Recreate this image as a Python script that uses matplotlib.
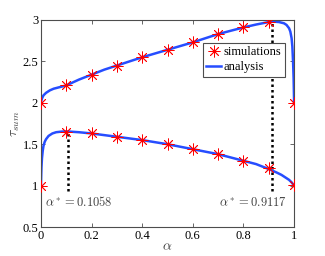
import matplotlib
matplotlib.use("Agg")
import matplotlib.pyplot as plt
import numpy as np

plt.rcParams['font.family'] = ['Liberation Serif', 'DejaVu Serif']
plt.rcParams['mathtext.fontset'] = 'cm'

# simulation points
alpha_sim = [0.0, 0.1, 0.2, 0.3, 0.4, 0.5, 0.6, 0.7, 0.8, 0.9, 1.0]
upper_sim = [2.0, 2.21, 2.34, 2.45, 2.55, 2.64, 2.73, 2.83, 2.91, 2.97, 2.0]
lower_sim = [1.0, 1.65, 1.63, 1.59, 1.55, 1.50, 1.44, 1.38, 1.30, 1.21, 1.01]

# analysis curves (sampled)
alpha_up = [0.0, 0.002, 0.005, 0.01, 0.02, 0.035, 0.05, 0.075, 0.1, 0.15, 0.2, 0.25,
            0.3, 0.35, 0.4, 0.45, 0.5, 0.55, 0.6, 0.65, 0.7, 0.75, 0.8, 0.85,
            0.9, 0.92, 0.94, 0.96, 0.97, 0.98, 0.985, 0.99, 0.993, 0.996, 0.998, 1.0]
upper_an = [2.0, 2.03, 2.06, 2.09, 2.12, 2.15, 2.17, 2.19, 2.21, 2.28, 2.34, 2.40,
            2.45, 2.50, 2.55, 2.595, 2.64, 2.685, 2.73, 2.78, 2.83, 2.87, 2.91, 2.945,
            2.975, 2.98, 2.975, 2.96, 2.94, 2.9, 2.86, 2.78, 2.68, 2.48, 2.3, 2.0]
alpha_lo = [0.0, 0.001, 0.002, 0.004, 0.007, 0.01, 0.015, 0.02, 0.03, 0.045, 0.06,
            0.08, 0.1, 0.15, 0.2, 0.25, 0.3, 0.35, 0.4, 0.45, 0.5, 0.55, 0.6, 0.65,
            0.7, 0.75, 0.8, 0.85, 0.9, 0.93, 0.95, 0.97, 0.98, 0.99, 1.0]
lower_an = [1.0, 1.12, 1.22, 1.33, 1.42, 1.48, 1.53, 1.56, 1.60, 1.63, 1.645,
            1.652, 1.655, 1.645, 1.63, 1.61, 1.59, 1.57, 1.55, 1.525, 1.50, 1.47, 1.44, 1.41,
            1.38, 1.34, 1.30, 1.26, 1.20, 1.16, 1.13, 1.09, 1.07, 1.04, 1.0]

alpha_star = [0.1058, 0.9117]
star_top = [1.655, 2.98]
star_bottom = 0.93

blue = (0.15, 0.3, 1.0)
star = (8, 2, 0)
mk = dict(ls='none', marker=star, ms=8.5, mew=0.6, color='red')

fig = plt.figure(figsize=(3.25, 2.56), dpi=100)
ax = fig.add_axes([0.126, 0.113, 0.779, 0.809])

for xs, top in zip(alpha_star, star_top):
    ax.plot([xs, xs], [star_bottom, top], color='black', ls=(0, (1, 1.2)), lw=1.8, zorder=1)

ax.plot(alpha_up, upper_an, color=blue, lw=1.8, zorder=2)
ax.plot(alpha_lo, lower_an, color=blue, lw=1.8, zorder=2)
ax.plot(alpha_sim, upper_sim, zorder=3, **mk)
ax.plot(alpha_sim, lower_sim, zorder=3, **mk)

# legend proxies
h1, = ax.plot([], [], label='simulations', **mk)
h2, = ax.plot([], [], color=blue, lw=1.8, label='analysis')
leg = ax.legend(handles=[h1, h2], loc='upper right', bbox_to_anchor=(0.965, 0.89),
                fontsize=9, handlelength=1.2, handletextpad=0.2, borderpad=0.3,
                labelspacing=0.2, fancybox=False, framealpha=1, borderaxespad=0)
leg.get_frame().set_edgecolor('0.3')
leg.get_frame().set_linewidth(0.8)

ax.text(0.015, 0.80, r'$\alpha^* = 0.1058$', fontsize=9, color='0.25', va='center', ha='left')
ax.text(0.97, 0.80, r'$\alpha^* = 0.9117$', fontsize=9, color='0.25', va='center', ha='right')

ax.set_xlim(0, 1)
ax.set_ylim(0.5, 3)
ax.set_xticks(np.arange(0, 1.01, 0.2))
ax.set_xticklabels(['0', '0.2', '0.4', '0.6', '0.8', '1'])
ax.set_yticks([0.5, 1, 1.5, 2, 2.5, 3])
ax.set_yticklabels(['0.5', '1', '1.5', '2', '2.5', '3'])
ax.tick_params(direction='in', top=True, right=True, labelsize=9, length=3,
               pad=2, color='0.3', width=0.6)
for s in ax.spines.values():
    s.set_color('0.3')
    s.set_linewidth(0.8)
ax.set_xlabel(r'$\alpha$', fontsize=10, labelpad=-1, color='0.25')
ax.set_ylabel(r'$\tau_{sum}$', fontsize=10, labelpad=0, color='0.25')

fig.savefig('out.png', dpi=100)
